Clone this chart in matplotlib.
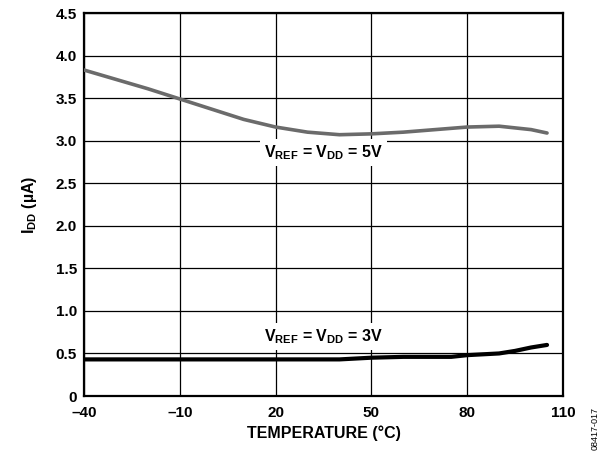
import matplotlib
matplotlib.use("Agg")
import matplotlib.pyplot as plt

plt.rcParams["font.family"] = ["Liberation Sans", "DejaVu Sans"]
plt.rcParams["mathtext.fontset"] = "custom"
plt.rcParams["mathtext.rm"] = "Liberation Sans:bold"
plt.rcParams["mathtext.bf"] = "Liberation Sans:bold"

# temperature (°C) vs supply current (µA)
temp_5v = [-40, -30, -20, -10, 0, 10, 20, 30, 40, 50, 60, 70, 80, 90, 100, 105]
idd_5v = [3.83, 3.72, 3.61, 3.49, 3.37, 3.25, 3.16, 3.10, 3.07, 3.08, 3.10, 3.13, 3.16, 3.17, 3.13, 3.09]

temp_3v = [-40, -20, 0, 20, 40, 50, 60, 75, 80, 90, 95, 100, 105]
idd_3v = [0.43, 0.43, 0.43, 0.43, 0.43, 0.45, 0.46, 0.46, 0.48, 0.50, 0.53, 0.57, 0.60]

x_ticks = [-40, -10, 20, 50, 80, 110]
x_labels = ["\u201340", "\u201310", "20", "50", "80", "110"]
y_ticks = [0, 0.5, 1.0, 1.5, 2.0, 2.5, 3.0, 3.5, 4.0, 4.5]
y_labels = ["0", "0.5", "1.0", "1.5", "2.0", "2.5", "3.0", "3.5", "4.0", "4.5"]

fig = plt.figure(figsize=(6.05, 4.53), dpi=100)
ax = fig.add_axes([84 / 605, 1 - 396 / 453, 479 / 605, 383 / 453])

ax.plot(temp_5v, idd_5v, color="#6b6b6b", lw=2.6, solid_capstyle="round", zorder=3)
ax.plot(temp_3v, idd_3v, color="#000000", lw=3.0, solid_capstyle="round", zorder=3)

ax.set_xlim(-40, 110)
ax.set_ylim(0, 4.5)
ax.set_xticks(x_ticks, x_labels)
ax.set_yticks(y_ticks, y_labels)
ax.tick_params(length=0, labelsize=11)
ax.tick_params(axis="x", pad=7)
ax.tick_params(axis="y", pad=5)
for lbl in ax.get_xticklabels() + ax.get_yticklabels():
    lbl.set_fontweight("bold")
ax.grid(True, color="black", lw=0.9)
for s in ax.spines.values():
    s.set_linewidth(1.6)

ax.set_xlabel("TEMPERATURE (°C)", fontsize=11.5, fontweight="bold", labelpad=4)
ax.set_ylabel(r"$\mathbf{I_{DD}}$ (µA)", fontsize=11.5, fontweight="bold", labelpad=12)

box = dict(facecolor="white", edgecolor="none", pad=3)
ax.text(35, 2.86, r"$\mathbf{V_{REF}}$ = $\mathbf{V_{DD}}$ = 5V", ha="center", va="center",
        fontsize=11.5, fontweight="bold", bbox=box, zorder=4)
ax.text(35, 0.70, r"$\mathbf{V_{REF}}$ = $\mathbf{V_{DD}}$ = 3V", ha="center", va="center",
        fontsize=11.5, fontweight="bold", bbox=box, zorder=4)

fig.text(595 / 605, 1 - 428 / 453, "08417-017", rotation=90, fontsize=6.5, ha="center", va="center")

fig.savefig("out.png", dpi=100)
